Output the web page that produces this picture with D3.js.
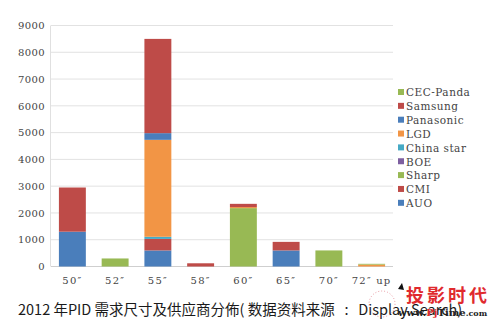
<!DOCTYPE html>
<html>
<head>
<meta charset="utf-8">
<script src="https://cdn.jsdelivr.net/npm/d3@7"></script>
<style>
  html, body { margin: 0; padding: 0; background: #fff; }
  svg { display: block; }
  .serif { font-family: "DejaVu Serif", "Liberation Serif", serif; }
</style>
</head>
<body>
<svg id="chart" width="500" height="330"></svg>
<script>
// Panel sizes (inches) and suppliers, 2012 PID demand
const categories = ["50″", "52″", "55″", "58″", "60″", "65″", "70″", "72″ up"];
const suppliers = ["AUO", "CMI", "Sharp", "BOE", "China star", "LGD", "Panasonic", "Samsung", "CEC-Panda"];

const AUO        = [1300,   0,  600,   0,    0, 600,   0,  0];
const CMI        = [1650,   0,  430, 120,    0, 320,   0,  0];
const Sharp      = [   0, 300,    0,   0, 2180,   0, 600,  0];
const BOE        = [   0,   0,    0,   0,    0,   0,   0,  0];
const ChinaStar  = [   0,   0,   80,   0,    0,   0,   0,  0];
const LGD        = [   0,   0, 3620,   0,   40,   0,   0, 70];
const Panasonic  = [   0,   0,  250,   0,    0,   0,   0,  0];
const Samsung    = [   0,   0, 3520,   0,  120,   0,   0,  0];
const CECPanda   = [   0,   0,    0,   0,    0,   0,   0, 30];

const yTicks = [0, 1000, 2000, 3000, 4000, 5000, 6000, 7000, 8000, 9000];

const seriesValues = [AUO, CMI, Sharp, BOE, ChinaStar, LGD, Panasonic, Samsung, CECPanda];
const colors = {
  "AUO": "#4a7ebb", "CMI": "#be4b48", "Sharp": "#98b954", "BOE": "#7d5fa0",
  "China star": "#46aac5", "LGD": "#f29545", "Panasonic": "#4a7ebb",
  "Samsung": "#be4b48", "CEC-Panda": "#98b954"
};

// one row per size, one column per supplier
const table = categories.map((c, i) => {
  const row = { size: c };
  suppliers.forEach((s, k) => { row[s] = seriesValues[k][i]; });
  return row;
});

const svg = d3.select("#chart");
const margin = { left: 51, right: 107, top: 25.5, bottom: 63.5 };
const W = 500, H = 330;

const x = d3.scaleBand().domain(categories)
  .range([margin.left, W - margin.right]).paddingInner(0.37).paddingOuter(0.185);
const y = d3.scaleLinear().domain([0, 9000]).range([H - margin.bottom, margin.top]);

// horizontal gridlines
svg.append("g").selectAll("line").data(yTicks).join("line")
  .attr("x1", margin.left).attr("x2", W - margin.right)
  .attr("y1", d => y(d)).attr("y2", d => y(d))
  .attr("stroke", d => d === 0 ? "#cfcfcf" : "#e2e2e2").attr("stroke-width", 1);

// vertical axis line
svg.append("line")
  .attr("x1", margin.left - 0.5).attr("x2", margin.left - 0.5)
  .attr("y1", y(9000)).attr("y2", y(0))
  .attr("stroke", "#e0e0e0");

// y axis labels
const yAxis = d3.axisLeft(y).tickValues(yTicks).tickSize(0).tickPadding(6).tickFormat(d3.format("d"));
svg.append("g").attr("transform", `translate(${margin.left},0)`).call(yAxis)
  .attr("font-family", null)
  .call(g => g.select(".domain").remove())
  .selectAll("text")
  .attr("class", "serif").attr("font-size", 10).attr("fill", "#444")
  .attr("letter-spacing", "0.4px");

// x axis labels
const xAxis = d3.axisBottom(x).tickSize(0).tickPadding(10);
svg.append("g").attr("transform", `translate(0,${y(0)})`).call(xAxis)
  .attr("font-family", null)
  .call(g => g.select(".domain").remove())
  .selectAll("text")
  .attr("class", "serif").attr("font-size", 10).attr("fill", "#444")
  .attr("letter-spacing", "1.2px");

// stacked bars
const stacked = d3.stack().keys(suppliers)(table);
svg.append("g").selectAll("g").data(stacked).join("g")
  .attr("fill", d => colors[d.key])
  .selectAll("rect").data(d => d.filter(p => p[1] > p[0])).join("rect")
  .attr("x", d => x(d.data.size))
  .attr("width", x.bandwidth())
  .attr("y", d => y(d[1]))
  .attr("height", d => y(d[0]) - y(d[1]));

// legend, listed top to bottom in reverse stacking order
const legendItems = suppliers.slice().reverse();
const legend = svg.append("g").attr("transform", "translate(398,92.5)");
const rows = legend.selectAll("g").data(legendItems).join("g")
  .attr("transform", (d, i) => `translate(0,${i * 13.85})`);
rows.append("rect").attr("x", 0).attr("y", -3.5).attr("width", 6).attr("height", 6)
  .attr("fill", d => colors[d]);
rows.append("text").attr("x", 8).attr("y", 0).attr("dy", "0.36em")
  .attr("class", "serif").attr("font-size", 10.5).attr("fill", "#444")
  .attr("letter-spacing", "0.5px")
  .text(d => d);

// caption
svg.append("text").attr("x", 18).attr("y", 314.5)
  .attr("font-family", "'Noto Sans CJK SC', 'Noto Sans', sans-serif")
  .attr("font-size", 14.5).attr("fill", "#1a1a1a")
  .style("white-space", "pre")
  .text("2012 年PID 需求尺寸及供应商分佈( 数据资料来源   :   Display Search)");

// site mark
const mark = svg.append("g");
mark.append("path").attr("d", "M398,289 L402,283 L404,290 Z").attr("fill", "#111");
mark.append("circle").attr("cx", 382).attr("cy", 304).attr("r", 13)
  .attr("fill", "none").attr("stroke", "#d85060").attr("stroke-width", 0.8)
  .attr("stroke-dasharray", "1,2").attr("opacity", 0.7);
mark.append("text").attr("x", 406).attr("y", 302)
  .attr("font-family", "'Noto Sans CJK SC', sans-serif").attr("font-weight", 700)
  .attr("font-size", 18).attr("letter-spacing", "3px").attr("fill", "#e02a2e")
  .text("投影时代");
const url = mark.append("text").attr("x", 398).attr("y", 316)
  .attr("font-family", "'DejaVu Serif', serif").attr("font-weight", 700).attr("font-size", 10).attr("fill", "#222");
url.append("tspan").text("www.");
url.append("tspan").attr("fill", "#e02a2e").text("Pj");
url.append("tspan").text("Time");
url.append("tspan").attr("font-size", 8).text(".com");
</script>
</body>
</html>
